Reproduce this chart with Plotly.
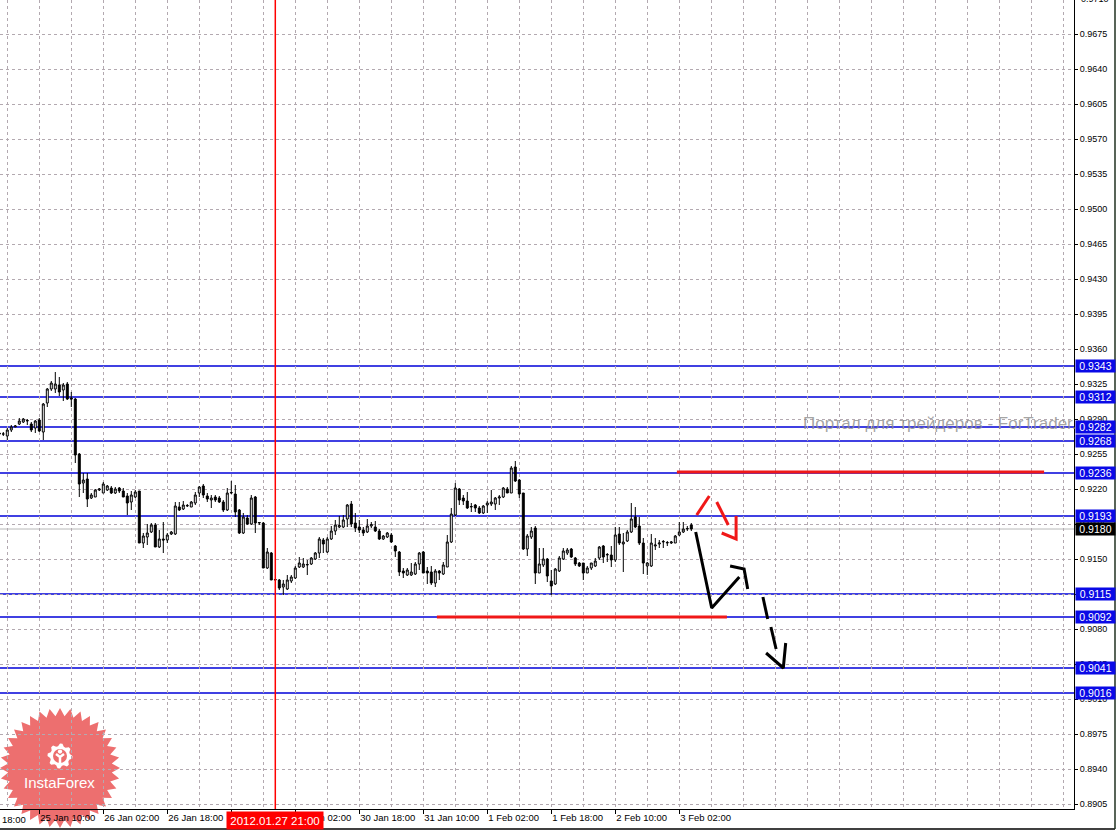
import math
import plotly.graph_objects as go

# ---------------- data (USD/CHF-like H1 bars) ----------------
first_bar = -1  # bar index of first candle (25 Jan 00:00)
opens = [0.9276, 0.9275, 0.9273, 0.9279, 0.9282, 0.9285, 0.9287, 0.9288, 0.9285, 0.9281,
         0.9289, 0.9277, 0.9306, 0.9320, 0.9320, 0.9324, 0.9319, 0.9325, 0.9311, 0.9310,
         0.9255, 0.9226, 0.9230, 0.9211, 0.9212, 0.9219, 0.9216, 0.9219, 0.9221, 0.9216,
         0.9221, 0.9218, 0.9213, 0.9207, 0.9212, 0.9218, 0.9166, 0.9172, 0.9177, 0.9184,
         0.9162, 0.9170, 0.9169, 0.9175, 0.9175, 0.9202, 0.9200, 0.9203, 0.9202, 0.9206,
         0.9216, 0.9223, 0.9213, 0.9209, 0.9212, 0.9211, 0.9207, 0.9199, 0.9216, 0.9215,
         0.9199, 0.9176, 0.9191, 0.9185, 0.9212, 0.9186, 0.9186, 0.9141, 0.9156, 0.9129,
         0.9129, 0.9122, 0.9120, 0.9128, 0.9131, 0.9142, 0.9142, 0.9144, 0.9145, 0.9150,
         0.9156, 0.9169, 0.9157, 0.9170, 0.9178, 0.9182, 0.9182, 0.9190, 0.9205, 0.9186,
         0.9182, 0.9179, 0.9177, 0.9183, 0.9182, 0.9178, 0.9170, 0.9172, 0.9174, 0.9163,
         0.9157, 0.9138, 0.9134, 0.9134, 0.9135, 0.9145, 0.9157, 0.9138, 0.9137, 0.9126,
         0.9138, 0.9135, 0.9142, 0.9167, 0.9194, 0.9220, 0.9211, 0.9208, 0.9202, 0.9204,
         0.9201, 0.9196, 0.9204, 0.9205, 0.9205, 0.9211, 0.9212, 0.9220, 0.9216, 0.9242,
         0.9229, 0.9216, 0.9160, 0.9172, 0.9181, 0.9136, 0.9144, 0.9150, 0.9128, 0.9125,
         0.9138, 0.9150, 0.9156, 0.9160, 0.9151, 0.9146, 0.9146, 0.9136, 0.9141, 0.9143,
         0.9151, 0.9163, 0.9154, 0.9154, 0.9149, 0.9175, 0.9165, 0.9168, 0.9177, 0.9192,
         0.9183, 0.9166, 0.9143, 0.9143, 0.9163, 0.9165, 0.9167, 0.9166, 0.9166, 0.9166,
         0.9174, 0.9177, 0.9180, 0.9184]
highs = [0.9278, 0.9277, 0.9281, 0.9284, 0.9284, 0.9291, 0.9291, 0.9290, 0.9287, 0.9289,
         0.9291, 0.9306, 0.9321, 0.9328, 0.9337, 0.9332, 0.9326, 0.9327, 0.9317, 0.9311,
         0.9256, 0.9236, 0.9236, 0.9216, 0.9220, 0.9221, 0.9227, 0.9224, 0.9223, 0.9222,
         0.9222, 0.9221, 0.9216, 0.9218, 0.9219, 0.9218, 0.9176, 0.9185, 0.9186, 0.9186,
         0.9179, 0.9187, 0.9176, 0.9178, 0.9207, 0.9207, 0.9208, 0.9205, 0.9208, 0.9217,
         0.9223, 0.9225, 0.9216, 0.9214, 0.9214, 0.9213, 0.9209, 0.9221, 0.9228, 0.9224,
         0.9200, 0.9196, 0.9194, 0.9214, 0.9213, 0.9187, 0.9187, 0.9161, 0.9157, 0.9130,
         0.9130, 0.9129, 0.9134, 0.9134, 0.9143, 0.9152, 0.9151, 0.9149, 0.9152, 0.9157,
         0.9172, 0.9171, 0.9172, 0.9183, 0.9189, 0.9193, 0.9194, 0.9205, 0.9208, 0.9196,
         0.9189, 0.9182, 0.9190, 0.9187, 0.9188, 0.9180, 0.9174, 0.9177, 0.9176, 0.9164,
         0.9158, 0.9141, 0.9141, 0.9146, 0.9147, 0.9157, 0.9158, 0.9142, 0.9143, 0.9140,
         0.9139, 0.9147, 0.9174, 0.9201, 0.9226, 0.9221, 0.9214, 0.9217, 0.9206, 0.9205,
         0.9203, 0.9204, 0.9208, 0.9219, 0.9212, 0.9214, 0.9222, 0.9222, 0.9243, 0.9248,
         0.9230, 0.9216, 0.9175, 0.9182, 0.9183, 0.9161, 0.9161, 0.9151, 0.9139, 0.9141,
         0.9153, 0.9161, 0.9161, 0.9161, 0.9152, 0.9147, 0.9146, 0.9143, 0.9146, 0.9151,
         0.9163, 0.9164, 0.9156, 0.9163, 0.9182, 0.9182, 0.9176, 0.9179, 0.9206, 0.9202,
         0.9192, 0.9171, 0.9147, 0.9175, 0.9171, 0.9169, 0.9169, 0.9168, 0.9168, 0.9174,
         0.9187, 0.9187, 0.9183, 0.9186]
lows = [0.9273, 0.9273, 0.9269, 0.9277, 0.9282, 0.9284, 0.9286, 0.9284, 0.9277, 0.9276,
        0.9277, 0.9269, 0.9302, 0.9318, 0.9316, 0.9313, 0.9308, 0.9309, 0.9302, 0.9246,
        0.9212, 0.9216, 0.9202, 0.9210, 0.9212, 0.9218, 0.9216, 0.9218, 0.9215, 0.9215,
        0.9216, 0.9212, 0.9194, 0.9199, 0.9211, 0.9166, 0.9161, 0.9164, 0.9176, 0.9162,
        0.9161, 0.9156, 0.9166, 0.9174, 0.9174, 0.9198, 0.9199, 0.9202, 0.9202, 0.9204,
        0.9212, 0.9211, 0.9207, 0.9201, 0.9207, 0.9206, 0.9197, 0.9198, 0.9215, 0.9192,
        0.9175, 0.9175, 0.9184, 0.9184, 0.9176, 0.9184, 0.9141, 0.9140, 0.9129, 0.9128,
        0.9119, 0.9114, 0.9119, 0.9126, 0.9130, 0.9141, 0.9141, 0.9134, 0.9144, 0.9149,
        0.9151, 0.9156, 0.9156, 0.9169, 0.9174, 0.9181, 0.9181, 0.9182, 0.9182, 0.9177,
        0.9176, 0.9173, 0.9176, 0.9181, 0.9177, 0.9169, 0.9169, 0.9171, 0.9166, 0.9152,
        0.9133, 0.9131, 0.9133, 0.9133, 0.9134, 0.9139, 0.9136, 0.9125, 0.9124, 0.9122,
        0.9129, 0.9134, 0.9142, 0.9166, 0.9193, 0.9204, 0.9204, 0.9200, 0.9197, 0.9197,
        0.9195, 0.9195, 0.9196, 0.9203, 0.9199, 0.9204, 0.9211, 0.9216, 0.9216, 0.9227,
        0.9211, 0.9159, 0.9153, 0.9170, 0.9125, 0.9136, 0.9142, 0.9127, 0.9114, 0.9124,
        0.9137, 0.9149, 0.9154, 0.9151, 0.9143, 0.9142, 0.9129, 0.9136, 0.9139, 0.9142,
        0.9149, 0.9146, 0.9147, 0.9142, 0.9147, 0.9164, 0.9137, 0.9167, 0.9176, 0.9181,
        0.9164, 0.9135, 0.9134, 0.9142, 0.9159, 0.9161, 0.9161, 0.9163, 0.9165, 0.9166,
        0.9173, 0.9176, 0.9178, 0.9178]
closes = [0.9275, 0.9275, 0.9279, 0.9282, 0.9283, 0.9288, 0.9290, 0.92885, 0.9279, 0.9288,
          0.9278, 0.9305, 0.9320, 0.9326, 0.9325, 0.9317, 0.9324, 0.9310, 0.9310, 0.9254,
          0.9225, 0.9229, 0.9210, 0.9214, 0.9219, 0.9220, 0.9225, 0.9223, 0.9216, 0.9220,
          0.9218, 0.9212, 0.9206, 0.9214, 0.9217, 0.9166, 0.9173, 0.9176, 0.9184, 0.9162,
          0.9170, 0.9169, 0.9174, 0.9177, 0.9203, 0.9199, 0.9204, 0.92035, 0.9207, 0.9214,
          0.9222, 0.9214, 0.9210, 0.9211, 0.9209, 0.9207, 0.9199, 0.9216, 0.92165, 0.9197,
          0.9176, 0.9192, 0.9185, 0.9211, 0.9186, 0.91865, 0.9141, 0.9157, 0.9129, 0.91295,
          0.9121, 0.9125, 0.9129, 0.9132, 0.9141, 0.9146, 0.9145, 0.91445, 0.9151, 0.9156,
          0.9170, 0.9165, 0.9170, 0.9178, 0.9184, 0.91835, 0.9189, 0.9204, 0.9185, 0.9181,
          0.9179, 0.9176, 0.9183, 0.91845, 0.9178, 0.9170, 0.9173, 0.9176, 0.9167, 0.9158,
          0.9137, 0.9136, 0.9139, 0.9137, 0.9145, 0.9156, 0.9136, 0.9136, 0.9126, 0.9138,
          0.9136, 0.9144, 0.9167, 0.9195, 0.9221, 0.9209, 0.9208, 0.9201, 0.92025, 0.9201,
          0.9196, 0.9203, 0.9206, 0.9207, 0.9211, 0.9212, 0.9221, 0.9216, 0.9241, 0.9228,
          0.9215, 0.9160, 0.9173, 0.9178, 0.9136, 0.9145, 0.9150, 0.9133, 0.9123, 0.9140,
          0.9151, 0.9158, 0.9159, 0.9152, 0.9145, 0.9143, 0.9136, 0.9141, 0.9146, 0.9148,
          0.9162, 0.9152, 0.91545, 0.9149, 0.9174, 0.9166, 0.9167, 0.9177, 0.9190, 0.9182,
          0.9166, 0.9146, 0.9146, 0.9166, 0.9164, 0.9166, 0.91675, 0.91665, 0.9167, 0.9173,
          0.9177, 0.9180, 0.91805, 0.9180]
bars = list(range(first_bar, first_bar + len(opens)))

tick_bars = [9, 25, 41, 57, 73, 89, 105, 121, 137, 153, 169]
tick_labels = ["25 Jan 10:00", "26 Jan 02:00", "26 Jan 18:00", "27 Jan 10:00",
               "30 Jan 02:00", "30 Jan 18:00", "31 Jan 10:00", "1 Feb 02:00",
               "1 Feb 18:00", "2 Feb 10:00", "3 Feb 02:00"]
grid_bars = list(range(1, 268, 8))
price_tick0 = 0.8905
price_step = 0.0035

blue_levels = [0.9343, 0.9312, 0.9282, 0.9268, 0.9236, 0.9193, 0.9115, 0.9092, 0.9041, 0.9016]
bid_price = 0.9180
red_lines = [  # (from bar, to bar, price)
    (108.4, 180.9, 0.9092),
    (168.4, 260.2, 0.9237),
]
crosshair_bar = 68
crosshair_label = "2012.01.27 21:00"

# hand-drawn forecast arrows (bar index, price)
red_arrow = [
    [(173.35, 0.9194), (176.5, 0.9213)],
    [(178.35, 0.9207), (181.25, 0.9184)],
    [(179.6, 0.9176), (183.2, 0.9170), (183.2, 0.9193)],
]
black_arrow = [
    [(173.1, 0.9177), (177.1, 0.9101), (184.0, 0.9132)],
    [(181.7, 0.9143), (185.2, 0.9140), (186.1, 0.9120)],
    [(189.9, 0.9112), (191.1, 0.9090)],
    [(191.9, 0.9082), (193.2, 0.9060)],
    [(190.7, 0.9056), (195.0, 0.9041), (195.6, 0.9066)],
]
watermark = "Портал для трейдеров - ForTrader.ru"

# ---------------- layout geometry ----------------
W, H = 1117, 830
PW, PH = 1074, 809          # plot area in pixels
X_RANGE = [-0.825, 267.675]
Y_RANGE = [0.8900, 0.9709]
GRID = "#b3a9b0"
BLUE = "#0a0ae6"
LINE_BLUE = "#0000d8"
FONT = "Liberation Sans"
XFONT = "Liberation Sans Narrow, Liberation Sans"


def pp(px, py):
    """pixel -> paper coordinates"""
    return px / PW, (PH - py) / PH


fig = go.Figure()

fig.add_trace(go.Candlestick(
    x=bars, open=opens, high=highs, low=lows, close=closes,
    increasing=dict(line=dict(color="black", width=1), fillcolor="white"),
    decreasing=dict(line=dict(color="black", width=1), fillcolor="black"),
    whiskerwidth=0, hoverinfo="skip", showlegend=False,
))


def add_polys(polys, color):
    xs, ys = [], []
    for poly in polys:
        for b, p in poly:
            xs.append(b)
            ys.append(p)
        xs.append(None)
        ys.append(None)
    fig.add_trace(go.Scatter(x=xs, y=ys, mode="lines", line=dict(color=color, width=3),
                             hoverinfo="skip", showlegend=False))


add_polys(red_arrow, "#f01818")
add_polys(black_arrow, "black")

shapes = []
# logo (InstaForex seal) – decorative, below the grid
cx, cy, r_out, r_in, n = 60, 768, 60, 52, 36
pts = []
for k in range(2 * n):
    r = r_out if k % 2 == 0 else r_in
    a = math.pi * k / n
    pts.append(pp(cx + r * math.cos(a), cy + r * math.sin(a)))
path = "M " + " L ".join(f"{x:.5f},{y:.5f}" for x, y in pts) + " Z"
shapes.append(dict(type="path", xref="paper", yref="paper", path=path, layer="below",
                   fillcolor="rgba(232,70,70,0.78)", line=dict(width=0)))
# gear
gx, gy = 60, 756
gpts = []
for k in range(32):
    a = 2 * math.pi * k / 32
    r = 12.5 if (k % 4) in (0, 1) else 10
    gpts.append(pp(gx + r * math.cos(a), gy + r * math.sin(a)))
gpath = "M " + " L ".join(f"{x:.5f},{y:.5f}" for x, y in gpts) + " Z"
shapes.append(dict(type="path", xref="paper", yref="paper", path=gpath, layer="below",
                   fillcolor="white", line=dict(width=0)))
x0, y0 = pp(gx - 7, gy - 7)
x1, y1 = pp(gx + 7, gy + 7)
shapes.append(dict(type="circle", xref="paper", yref="paper", x0=x0, y0=y0, x1=x1, y1=y1,
                   layer="below", fillcolor="#ec6d6d", line=dict(width=0)))
x0, y0 = pp(gx - 2.2, gy - 6.5)
x1, y1 = pp(gx + 2.2, gy - 2.3)
shapes.append(dict(type="circle", xref="paper", yref="paper", x0=x0, y0=y0, x1=x1, y1=y1,
                   layer="below", fillcolor="white", line=dict(width=0)))
a1, a2, a3, a4, a5 = pp(gx - 4, gy - 2), pp(gx, gy + 1), pp(gx + 4, gy - 2), pp(gx, gy + 1), pp(gx, gy + 8)
shapes.append(dict(type="path", xref="paper", yref="paper", layer="below",
                   path=f"M {a1[0]},{a1[1]} L {a2[0]},{a2[1]} L {a3[0]},{a3[1]} M {a4[0]},{a4[1]} L {a5[0]},{a5[1]}",
                   line=dict(color="white", width=2.5)))

# horizontal levels
for lv in blue_levels:
    shapes.append(dict(type="line", xref="paper", x0=0, x1=1, yref="y", y0=lv, y1=lv,
                       layer="between", line=dict(color=LINE_BLUE, width=1.3)))
shapes.append(dict(type="line", xref="paper", x0=0, x1=1, yref="y", y0=bid_price, y1=bid_price,
                   layer="between", line=dict(color="#b8b8b8", width=1)))
for b0, b1, p in red_lines:
    shapes.append(dict(type="line", xref="x", x0=b0, x1=b1, yref="y", y0=p, y1=p,
                       layer="above", line=dict(color="#f01818", width=3)))
# crosshair
shapes.append(dict(type="line", xref="x", x0=crosshair_bar, x1=crosshair_bar, yref="paper",
                   y0=0, y1=1, layer="above", line=dict(color="#ff0000", width=1.5)))
# window frame
bx, by = pp(1115, 829)
shapes.append(dict(type="line", xref="paper", yref="paper", x0=0, x1=bx, y0=by, y1=by,
                   line=dict(color="black", width=1.5)))
shapes.append(dict(type="line", xref="paper", yref="paper", x0=bx, x1=bx, y0=by, y1=1,
                   line=dict(color="#203020", width=1.5)))

annotations = []
wx, _ = pp(801, 0)
annotations.append(dict(x=wx, xref="paper", y=0.92855, yref="y", text=watermark,
                        showarrow=False, xanchor="left", yanchor="middle",
                        font=dict(family=FONT, size=17, color="rgba(140,140,140,0.8)")))
for lv in blue_levels:
    annotations.append(dict(x=1, xref="paper", xshift=1, y=lv, yref="y", text=f"{lv:.4f}",
                            showarrow=False, xanchor="left", yanchor="middle",
                            width=39, height=12, borderpad=0, bgcolor=BLUE,
                            font=dict(family=FONT, size=10.5, color="white")))
annotations.append(dict(x=1, xref="paper", xshift=1, y=bid_price, yref="y", text=f"{bid_price:.4f}",
                        showarrow=False, xanchor="left", yanchor="middle",
                        width=39, height=12, borderpad=0, bgcolor="black",
                        font=dict(family=FONT, size=10.5, color="white")))
annotations.append(dict(x=1, xref="paper", xshift=5, y=1 + 1 / PH, yref="paper", text="0.9710",
                        showarrow=False, xanchor="left", yanchor="middle",
                        font=dict(family=FONT, size=9, color="black")))
annotations.append(dict(x=0, xref="paper", y=0, yref="paper", yshift=-3, text="18:00",
                        showarrow=False, xanchor="left", yanchor="top",
                        font=dict(family=XFONT, size=9.5, color="black")))
annotations.append(dict(x=crosshair_bar, xref="x", y=0, yref="paper", yshift=-1.5,
                        text=crosshair_label, showarrow=False, xanchor="center", yanchor="top",
                        width=96, height=17, borderpad=0, bgcolor="#ff0000",
                        font=dict(family=FONT, size=11.5, color="white")))
lx, ly = pp(60, 782)
annotations.append(dict(x=lx, xref="paper", y=ly, yref="paper", text="InstaForex",
                        showarrow=False, xanchor="center", yanchor="middle",
                        font=dict(family=FONT, size=15, color="white")))

fig.update_layout(
    width=W, height=H,
    margin=dict(l=0, r=W - PW, t=0, b=H - PH),
    paper_bgcolor="white", plot_bgcolor="white",
    showlegend=False,
    shapes=shapes, annotations=annotations,
    xaxis=dict(
        range=X_RANGE, rangeslider=dict(visible=False),
        tickmode="array", tickvals=tick_bars, ticktext=tick_labels,
        ticklabelposition="outside right",
        ticks="outside", ticklen=4, tickcolor="black", tickwidth=1,
        showline=True, linecolor="black", linewidth=1,
        showgrid=True, gridcolor=GRID, griddash="3px,3px", gridwidth=1,
        minor=dict(tickmode="array", tickvals=grid_bars, showgrid=True, gridcolor=GRID,
                   griddash="3px,3px", gridwidth=1, ticks=""),
        zeroline=False, fixedrange=True,
        tickfont=dict(family=XFONT, size=9.5, color="black"),
    ),
    yaxis=dict(
        range=Y_RANGE, side="right",
        tick0=price_tick0, dtick=price_step, tickformat=".4f",
        ticks="outside", ticklen=3, tickcolor="black",
        showline=True, linecolor="black", linewidth=1,
        showgrid=True, gridcolor=GRID, griddash="3px,3px", gridwidth=1,
        zeroline=False, fixedrange=True,
        tickfont=dict(family=FONT, size=9, color="black"),
    ),
)

fig.write_html(
    "out.html",
    config={"displayModeBar": False},
    post_script="document.body.style.margin='0';document.body.style.overflow='hidden';",
)
